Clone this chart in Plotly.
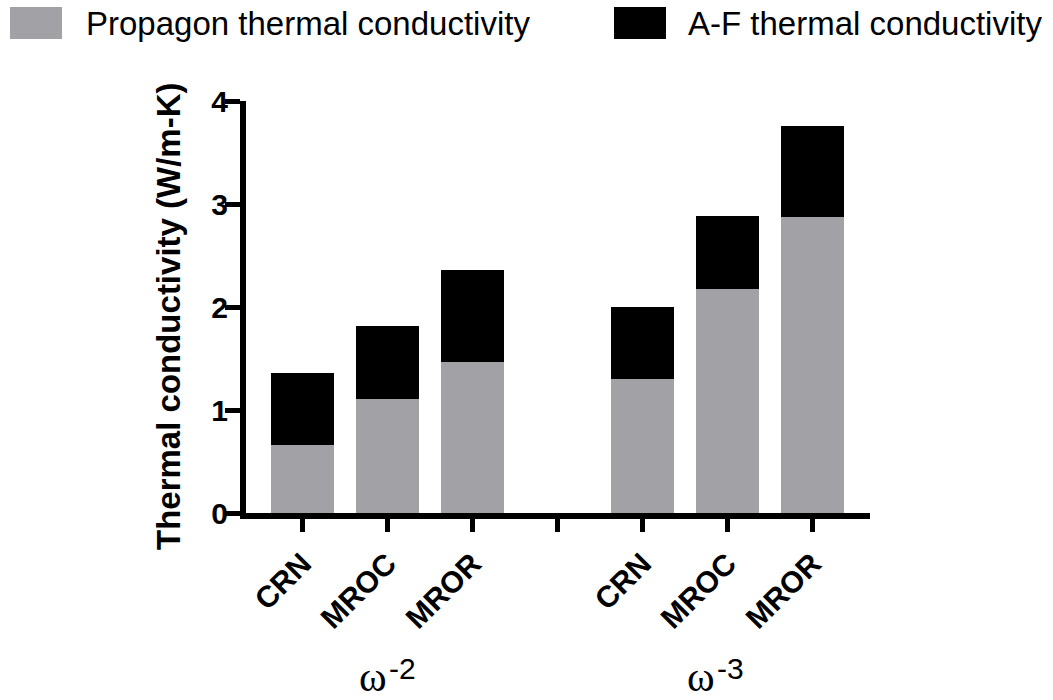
import plotly.graph_objects as go

# ---- data ----
materials = ["CRN", "MROC", "MROR"]
groups = ["-2", "-3"]  # exponent of omega
propagon = [0.66, 1.11, 1.47, 1.30, 2.17, 2.87]
af = [0.70, 0.71, 0.89, 0.70, 0.71, 0.89]
y_ticks = [0, 1, 2, 3, 4]

GRAY = "#a2a1a6"
FIG_W, FIG_H = 1053, 700
L, R, T, B = 246, 183, 101, 187
PW, PH = FIG_W - L - R, FIG_H - T - B


def px(xp):
    return (xp - L) / PW


def py(yp):
    return (FIG_H - B - yp) / PH


# positions: groups separated by one empty slot
xpos = []
tickvals, ticktext = [], []
slot = 0
for gi, g in enumerate(groups):
    for m in materials:
        xpos.append(slot)
        tickvals.append(slot)
        ticktext.append(m)
        slot += 1
    if gi < len(groups) - 1:
        tickvals.append(slot)
        ticktext.append("")
        slot += 1

fig = go.Figure()
fig.add_trace(go.Bar(x=xpos, y=propagon, name="Propagon thermal conductivity",
                     marker=dict(color=GRAY, line=dict(width=0)), width=0.74))
fig.add_trace(go.Bar(x=xpos, y=af, name="A-F thermal conductivity",
                     marker=dict(color="black", line=dict(width=0)), width=0.74))

fig.update_layout(
    barmode="stack",
    width=FIG_W, height=FIG_H,
    margin=dict(l=L, r=R, t=T, b=B, pad=0),
    plot_bgcolor="white", paper_bgcolor="white",
    showlegend=False,
    font=dict(family="Liberation Sans, Arial, sans-serif", color="black"),
)

fig.update_xaxes(
    range=[-0.665, 6.676],
    tickvals=tickvals, ticktext=ticktext,
    tickangle=-45,
    tickfont=dict(size=30, weight="bold", family="Liberation Sans"),
    ticks="outside", ticklen=13, tickwidth=5, tickcolor="black",
    ticklabelstandoff=2,
    showline=True, linewidth=6, linecolor="black",
    showgrid=False, zeroline=False,
)
fig.update_yaxes(
    range=[0, 4],
    tickvals=y_ticks,
    tickfont=dict(size=30, weight="bold", family="Liberation Sans"),
    ticks="outside", ticklen=15, tickwidth=5, tickcolor="black",
    ticklabelstandoff=-9,
    showline=True, linewidth=6, linecolor="black",
    showgrid=False, zeroline=False,
)

# y-axis title
fig.add_annotation(
    text="Thermal conductivity (W/m-K)", textangle=-90,
    xref="paper", yref="paper", x=px(168), y=py(316),
    xanchor="center", yanchor="middle", showarrow=False,
    font=dict(size=33, weight="bold", family="Liberation Sans"),
)

# group labels: omega (serif) with a sans superscript exponent
group_x = [388, 716]
for g, gx in zip(groups, group_x):
    fig.add_annotation(
        text="ω", xref="paper", yref="paper", x=px(gx + 1), y=py(677),
        xanchor="right", yanchor="middle", showarrow=False,
        font=dict(size=42, family="Liberation Serif"),
    )
    fig.add_annotation(
        text=g, xref="paper", yref="paper", x=px(gx - 1), y=py(668),
        xanchor="left", yanchor="middle", showarrow=False,
        font=dict(size=30, family="Liberation Sans"),
    )

# legend
legend_items = [("Propagon thermal conductivity", GRAY, 10, 84),
                ("A-F thermal conductivity", "black", 614, 686)]
for name, col, rx, tx in legend_items:
    fig.add_shape(type="rect", xref="paper", yref="paper",
                  x0=px(rx), x1=px(rx + 52), y0=py(39), y1=py(7),
                  fillcolor=col, line=dict(width=0))
    fig.add_annotation(text=name, xref="paper", yref="paper",
                       x=px(tx), y=py(23), xanchor="left", yanchor="middle",
                       showarrow=False, font=dict(size=33, family="Liberation Sans"))

fig.write_html("out.html", post_script="document.body.style.margin='0';",
               config={"displayModeBar": False})
